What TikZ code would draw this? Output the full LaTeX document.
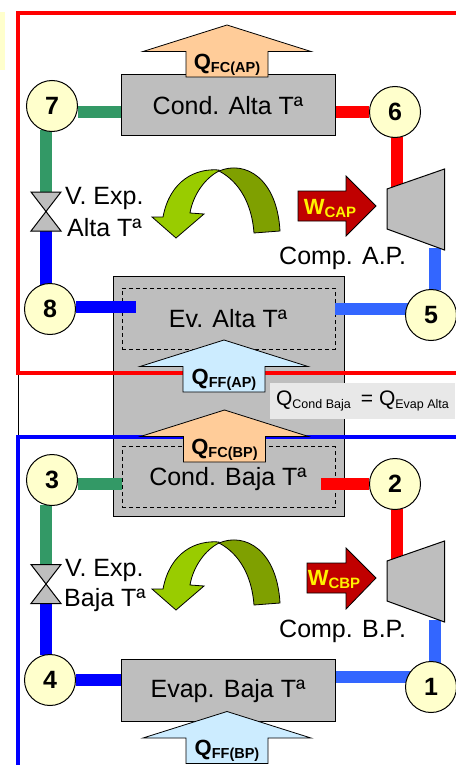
\documentclass[tikz,border=0pt]{standalone}
\usepackage{fontspec}
\setmainfont{Liberation Sans}
\usepackage{xcolor}
\usepackage{tikz}
\usetikzlibrary{positioning}

\definecolor{boxgray}{HTML}{BEBEBE}
\definecolor{pipegreen}{HTML}{339966}
\definecolor{pipeblue}{HTML}{0000FF}
\definecolor{pipesky}{HTML}{3366FF}
\definecolor{statefill}{HTML}{FFFFCC}
\definecolor{hotfill}{HTML}{FFCC99}
\definecolor{coldfill}{HTML}{CCECFF}
\definecolor{workfill}{HTML}{C00000}
\definecolor{turnlight}{HTML}{99CC00}
\definecolor{turndark}{HTML}{7FA000}

\pgfdeclarelayer{front}
\pgfsetlayers{main,front}

\newcommand{\qlabel}[1]{{\fontsize{22}{22}\selectfont\bfseries Q}\raisebox{-3pt}{\fontsize{14.5}{14.5}\selectfont\bfseries #1}}
\newcommand{\wlabel}[1]{{\fontsize{22}{22}\selectfont\bfseries W}\raisebox{-3pt}{\fontsize{15}{15}\selectfont\bfseries #1}}

\tikzset{
	state/.style={circle,draw,line width=1pt,fill=statefill,minimum size=51pt,inner sep=0pt,font=\fontsize{25}{25}\selectfont\bfseries},
	unitbox/.style={draw,line width=1pt,fill=boxgray,inner sep=0pt},
	inner box/.style={draw,dash pattern=on 4pt off 3pt,line width=0.9pt,inner sep=0pt,minimum width=213pt,minimum height=61pt},
	big text/.style={inner sep=0pt,font=\fontsize{25}{25}\selectfont},
	pipe/.style={line width=#1},
	pipe/.default=11.5pt,
	machine/.style={draw,line width=1pt,fill=boxgray}
}

\begin{document}
\begin{tikzpicture}[x=1pt,y=-1pt]
	\useasboundingbox (0,0) rectangle (455,765);

	% pale strip on the left edge
	\fill[statefill] (0,12) rectangle (5,70);

	% draw shared box and the units
	\node (shared) at (229,396.7) [unitbox,minimum width=231pt,minimum height=239.5pt] {};
	\node (evA) at (228.5,318.5) [inner box] {};
	\node (condB) at (228.5,477.3) [inner box] {};
	\node (condA) at (228.5,104.8) [unitbox,minimum width=213.5pt,minimum height=61.5pt] {};
	\node (evapB) at (228.5,690.5) [unitbox,minimum width=213.5pt,minimum height=61.5pt] {};

	% draw cycle frames
	\draw[line width=0.7pt] (18,373) -- (18,437);
	\draw[red,line width=3.8pt] (460,13) -- (18,13) -- (18,373) -- (460,373);
	\draw[pipeblue,line width=3.8pt] (460,437) -- (18,437) -- (18,770);

	% draw numbered states
	\begin{pgfonlayer}{front}
		\node (s7) at (52,106) [state] {7};
		\node (s6) at (395,112) [state] {6};
		\node (s8) at (50,309) [state] {8};
		\node (s5) at (431,315) [state] {5};
		\node (s3) at (52,480) [state] {3};
		\node (s2) at (395,484) [state] {2};
		\node (s4) at (50,680) [state] {4};
		\node (s1) at (431,687) [state] {1};
	\end{pgfonlayer}

	% valve and compressor points
	\coordinate (vAtop) at (46,192);
	\coordinate (vAbot) at (46,231);
	\coordinate (vBtop) at (46,564.5);
	\coordinate (vBbot) at (46,603.5);
	\coordinate (cA) at (397,190);
	\coordinate (cB) at (397,562);
	\coordinate (outA) at (435,248);
	\coordinate (outB) at (435,620);

	% draw pipes of the upper cycle
	\draw[pipe,pipegreen] (78,112) -- (78,112 -| condA.west);
	\draw[pipe,pipegreen] (46,130) -- (vAtop);
	\draw[pipe,pipeblue] (vAbot) -- (46,285);
	\draw[pipe,pipeblue] (76,307) -- (136,307);
	\draw[pipe,pipesky] (s5.center |- 0,309) -- (evA.east |- 0,309);
	\draw[pipe,pipesky] (outA) -- (435,290);
	\draw[pipe,red] (condA.east |- s6) -- (s6);
	\draw[pipe,red] (397,137) -- (cA);

	% draw pipes of the lower cycle
	\draw[pipe,pipegreen] (78,484) -- (78,484 -| condB.west);
	\draw[pipe,pipegreen] (46,505) -- (vBtop);
	\draw[pipe,pipeblue] (vBbot) -- (46,655);
	\draw[pipe,pipeblue] (s4) -- (s4 -| evapB.west);
	\draw[pipe,pipesky] (s1.center |- 0,677) -- (evapB.east |- 0,677);
	\draw[pipe,pipesky] (outB) -- (435,665);
	\draw[pipe,red] (321,484) -- (s2);
	\draw[pipe,red] (397,509) -- (cB);

	% draw valves, compressors and turning arrows
	\foreach \name/\y/\vy in {A/0/211.5,B/372/584}
	{
		\draw[machine] (31,\vy-19.5) -- (61,\vy-19.5) -- (31,\vy+19.5) -- (61,\vy+19.5) -- cycle;
		\draw[machine] (387,189+\y) -- (444.5,169+\y) -- (444.5,250+\y) -- (387,229+\y) -- cycle;
		\draw[line width=0.8pt,fill=turnlight] (219,170+\y) .. controls (196,168+\y) and (170,180+\y) .. (163,217+\y) -- (152,217+\y) -- (176,238+\y) -- (204,214+\y) -- (190,213+\y) .. controls (193,195+\y) and (205,178+\y) .. (219,171+\y) -- cycle;
		\draw[line width=0.8pt,fill=turndark] (219,171+\y) .. controls (245,160+\y) and (277,178+\y) .. (280,231+\y) -- (254,233+\y) .. controls (252,205+\y) and (240,182+\y) .. (219,171+\y) -- cycle;
	}

	% draw work arrows
	\draw[line width=0.8pt,fill=workfill] (298,191) -- (346,191) -- (346,176) -- (376,206) -- (346,236) -- (346,221) -- (298,221) -- cycle;
	\draw[line width=0.8pt,fill=workfill] (307,563) -- (346,563) -- (346,548) -- (376,578) -- (346,609) -- (346,593) -- (307,593) -- cycle;
	\node (wA) at (330,209) [inner sep=0pt,text=yellow] {\wlabel{CAP}};
	\node (wB) at (334,579) [inner sep=0pt,text=yellow] {\wlabel{CBP}};

	% draw heat arrows
	\foreach \name/\x/\y/\col/\sub in {fcA/227/25/hotfill/FC(AP),ffA/224/340/coldfill/FF(AP),fcB/224.5/410/hotfill/FC(BP),ffB/227/711.5/coldfill/FF(BP)}
	{
		\draw[line width=0.8pt,fill=\col] (\x,\y) -- (\x+84,\y+26.5) -- (\x+41,\y+26.5) -- (\x+41,\y+52) -- (\x-41,\y+52) -- (\x-41,\y+26.5) -- (\x-84,\y+26.5) -- cycle;
		\node (\name) at (\x,\y+39.5) [inner sep=0pt] {\qlabel{\sub}};
	}

	% draw heat balance label
	\node (balance) at (362.5,401) [fill=black!9,minimum width=185pt,minimum height=36pt,inner sep=0pt] {\fontsize{21}{21}\selectfont Q\raisebox{-3pt}{\fontsize{12.5}{12.5}\selectfont Cond Baja}\hspace{10pt}=\hspace{6pt}Q\raisebox{-3pt}{\fontsize{12.5}{12.5}\selectfont Evap Alta}};

	% draw texts
	\node (tcondA) at (228,106) [big text] {Cond. Alta Tª};
	\node (tevA) at (228,319) [big text] {Ev. Alta Tª};
	\node (tcondB) at (228,479) [big text] {Cond. Baja Tª};
	\node (tevapB) at (228,691) [big text] {Evap. Baja Tª};
	\node (tvA1) at (65,198) [big text,anchor=west] {V. Exp.};
	\node (tvA2) at (67,228) [big text,anchor=west] {Alta Tª};
	\node (tvB1) at (65,570) [big text,anchor=west] {V. Exp.};
	\node (tvB2) at (64,600) [big text,anchor=west] {Baja Tª};
	\node (tcompA) at (279,258) [big text,anchor=west] {Comp. A.P.};
	\node (tcompB) at (279,631) [big text,anchor=west] {Comp. B.P.};
\end{tikzpicture}
\end{document}
